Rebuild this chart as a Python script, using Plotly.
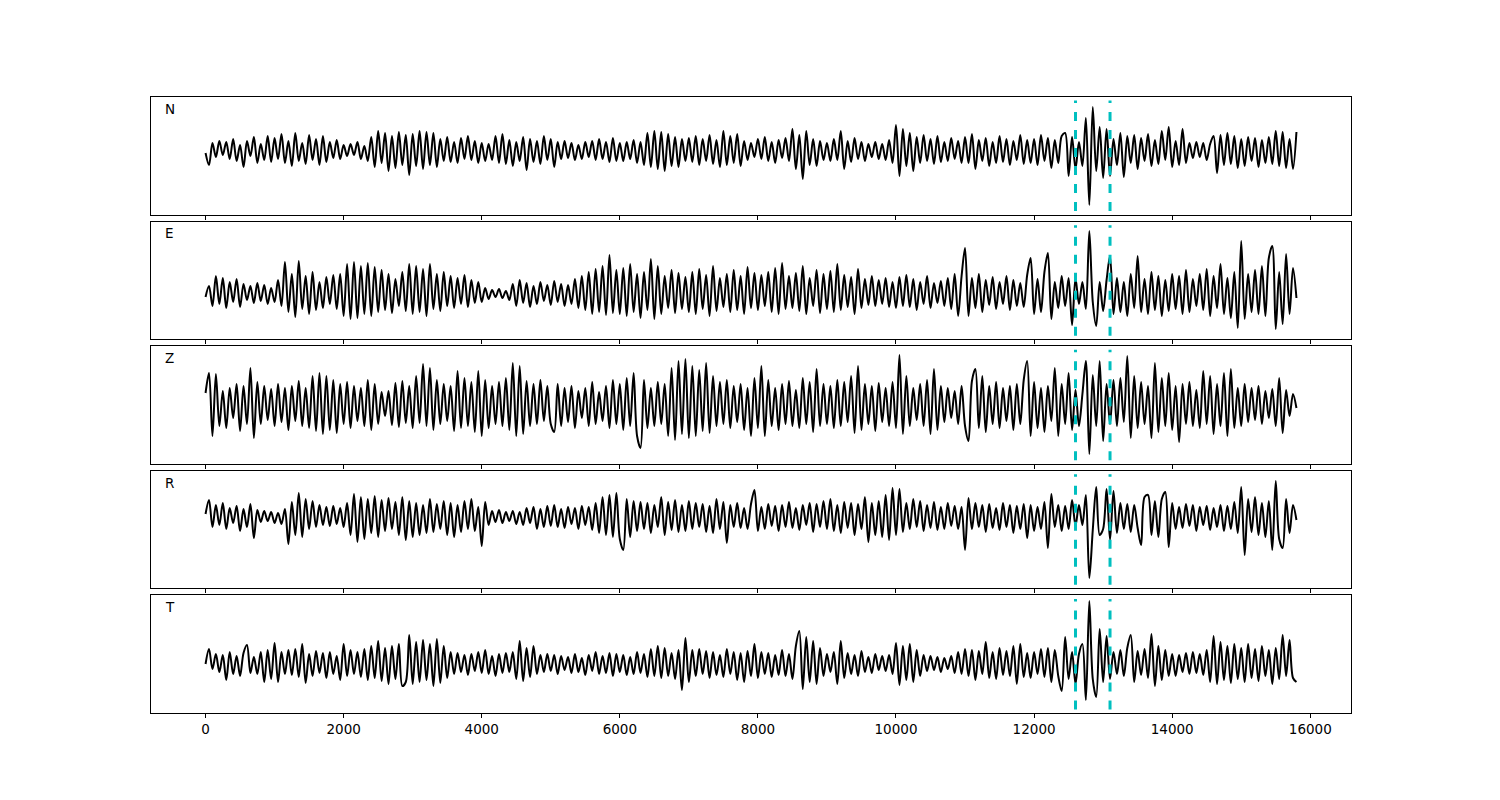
import numpy as np
import plotly.graph_objects as go
from plotly.subplots import make_subplots

# sample spacing of the traces (x units)
dt = 50
pick_times = [12600, 13100]
components = ["N", "E", "Z", "R", "T"]
x_ticks = [0, 2000, 4000, 6000, 8000, 10000, 12000, 14000, 16000]

N_vals = [
    -2, -14, 8, -6, 10, -4, 9, -8, 12, -10, 6, -16, 10, -5, 14, -12, 7, -9, 15, -11,
    13, -8, 17, -12, 10, -15, 18, -10, 8, -13, 16, -9, 12, -14, 15, -11, 9, -7, 11, -8,
    6, -5, 7, -4, 9, -8, 5, -10, 14, -16, 20, -12, 18, -20, 15, -17, 19, -14, 16, -24,
    17, -15, 20, -18, 19, -14, 18, -16, 12, -10, 14, -11, 9, -12, 13, -8, 15, -9, 10, -12,
    8, -10, 7, -9, 15, -12, 17, -13, 11, -15, 9, -10, 14, -19, 12, -11, 10, -13, 15, -9,
    12, -16, 9, -8, 10, -7, 8, -9, 6, -8, 9, -6, 10, -9, 12, -8, 9, -11, 13, -10,
    8, -10, 9, -8, 11, -12, 9, -14, 18, -16, 20, -18, 19, -20, 17, -15, 14, -16, 12, -10,
    13, -11, 15, -14, 12, -10, 16, -13, 11, -16, 20, -14, 15, -12, 17, -15, 10, -9, 8, -6,
    12, -8, 14, -10, 9, -12, 11, -7, 13, -10, 22, -18, 16, -28, 20, -14, 12, -15, 10, -9,
    8, -10, 12, -9, 20, -18, 10, -11, 13, -8, 9, -10, 7, -6, 9, -8, 7, -9, 11, -12,
    26, -25, 22, -15, 18, -20, 14, -12, 16, -10, 12, -13, 15, -11, 9, -10, 13, -8, 10, -12,
    14, -12, 17, -18, 11, -10, 13, -15, 9, -12, 15, -11, 12, -14, 10, -9, 16, -13, 11, -12,
    12, -14, 16, -10, 13, -17, 11, -12, 15, 18, -25, 14, -18, 9, -15, 33, -54, 44, -20, 24,
    -27, 22, -25, 12, -14, 18, -26, 15, -12, 16, -18, 13, -10, 17, -15, 11, -13, 20, -9, 24,
    -16, 10, -14, 22, -12, 8, -7, 9, -6, 8, -9, 7, 15, -22, 16, -14, 18, -13, 15, -17,
    12, -15, 14, -10, 13, -16, 11, -12, 14, -13, 20, -15, 19, -17, 12, -18, 19,
]

E_vals = [
    -3, 8, -12, 18, -10, 16, -14, 12, -8, 15, -13, 10, -6, 8, -9, 11, -7, 9, -10, 6,
    -8, 14, -12, 32, -18, 20, -23, 33, -15, 18, -20, 22, -16, 12, -14, 17, -10, 19, -15, 20,
    -22, 30, -25, 32, -24, 28, -20, 31, -22, 27, -18, 24, -16, 20, -19, 15, -12, 22, -17, 30,
    -20, 28, -18, 25, -22, 30, -15, 20, -17, 22, -12, 18, -14, 16, -10, 19, -13, 14, -9, 12,
    -8, 6, -5, 4, -3, 5, -4, 3, -6, 10, -12, 14, -9, 11, -13, 8, -10, 12, -7, 9,
    -11, 13, -8, 10, -12, 9, -10, 15, -14, 18, -16, 22, -20, 25, -18, 28, -21, 39, -19, 24,
    -20, 26, -22, 30, -18, 20, -24, 22, -16, 35, -25, 28, -20, 18, -14, 24, -19, 21, -15, 17,
    -18, 22, -20, 25, -15, 19, -22, 28, -17, 16, -13, 20, -18, 24, -16, 18, -20, 27, -14, 21,
    -16, 19, -12, 22, -18, 26, -20, 31, -15, 18, -14, 21, -17, 28, -20, 16, -12, 24, -19, 20,
    -15, 23, -18, 30, -16, 19, -13, 17, -20, 25, -14, 15, -11, 18, -12, 14, -10, 16, -13, 12,
    -14, 17, -12, 19, -13, 15, -16, 12, -10, 18, -14, 11, -9, 13, -12, 16, -15, 20, -22, 18,
    46, -22, 16, -14, 20, -18, 14, -11, 17, -15, 12, -10, 18, -16, 14, -12, 11, -13, 19, 36,
    -20, 15, -18, 22, 41, -25, 12, -14, 18, -12, 16, -31, 16, -10, 12, -15, 63, -8, -32, 12,
    -17, 14, 38, -20, 16, -18, 12, -22, 20, -14, 38, -18, 15, -20, 22, -16, 18, -22, 14, -17,
    20, -15, 18, -20, 24, -18, 15, -12, 20, -16, 25, -22, 18, -14, 30, -20, 16, -24, 22, -34,
    53, -25, 20, -18, 24, -20, 28, -22, 36, 48, -35, 22, -30, 40, -20, 26, -4,
]

Z_vals = [
    13, 33, -30, 32, -20, 15, -22, 18, -12, 22, -25, 20, -18, 38, -32, 24, -18, 20, -14, 17,
    -20, 22, -16, 18, -24, 20, -15, 25, -20, 18, -22, 30, -25, 33, -28, 30, -24, 26, -27, 22,
    -18, 24, -22, 20, -15, 18, -20, 26, -24, 22, -18, 14, -10, 15, -19, 23, -21, 25, -17, 20,
    -22, 30, -17, 42, -20, 38, -24, 26, -18, 22, -15, 20, -25, 35, -22, 28, -20, 24, -26, 35,
    -30, 26, -22, 20, -18, 24, -20, 28, -24, 43, -30, 40, -28, 25, -20, 22, -18, 26, -15, 20,
    -18, -26, 22, -20, 18, -16, 20, -22, 15, -12, 18, -20, 24, -18, 14, -15, 20, -22, 26, -18,
    22, -24, 28, -20, 33, -30, -42, 26, -22, 18, -20, 24, -18, 22, -30, 38, -34, 45, -28, 47,
    -32, 40, -30, 36, -25, 43, -27, 30, -20, 24, -18, 26, -22, 20, -16, 22, -24, 18, -30, 28,
    -22, 40, -30, 26, -20, 18, -24, 22, -18, 25, -20, 16, -22, 28, -18, 24, -26, 37, -20, 22,
    -18, 20, -22, 26, -20, 24, -16, 30, -27, 40, -24, 22, -18, 20, -25, 23, -16, 18, -20, 24,
    -22, 51, -28, 30, -20, 18, -14, 22, -20, 26, -28, 37, -24, 20, -16, 18, -12, 15, -18, 20,
    -20, -35, 25, 37, -22, 30, -26, 20, -18, 24, -22, 18, -15, 20, -24, 22, -18, 26, 45, -30,
    24, -22, 18, -26, 20, -15, 38, -30, 22, -18, 33, -24, 16, -20, 12, 45, -48, 31, -20, 45,
    -35, 22, -18, 26, -20, 28, -16, 50, -32, 30, -22, 24, -18, 20, -32, 43, -26, 28, -20, 33,
    -24, 20, -36, 22, -18, 24, -20, 16, -22, 35, -18, 30, -28, 22, -20, 33, -30, 37, -22, 18,
    -20, 22, -16, 18, -14, 20, -18, 15, -12, 17, -20, 28, -27, 16, -10, 12, -2,
]

R_vals = [
    3, 17, -10, 12, -8, 14, -12, 9, -6, 11, -14, 8, -10, 13, -21, 7, -5, 6, -4, 5,
    -6, 4, -7, 8, -27, 15, -18, 24, -20, 18, -12, 16, -10, 12, -8, 10, -9, 11, -7, 9,
    -10, 14, -18, 23, -25, 20, -22, 18, -16, 21, -20, 17, -14, 19, -12, 15, -18, 20, -23, 16,
    -20, 14, -18, 12, -16, 18, -15, 13, -12, 16, -18, 14, -20, 12, -15, 16, -12, 18, -14, 10,
    -29, 15, -8, 6, -5, 7, -6, 5, -4, 6, -7, 5, -8, 9, -6, 10, -12, 8, -10, 11,
    -9, 12, -10, 8, -11, 10, -7, 9, -12, 11, -8, 10, -13, 14, -16, 20, -18, 22, -20, 24,
    -22, -33, 18, -20, 16, -14, 15, -12, 14, -16, 12, -10, 20, -18, 15, -13, 17, -15, 12, -14,
    16, -12, 14, -10, 13, -15, 11, -16, 18, -12, 15, -26, 12, -10, 14, -11, 9, -12, 13, 27,
    -14, 10, -12, 13, -9, 11, -14, 12, -10, 15, -11, 9, -13, 12, -8, 14, -15, 13, -10, 16,
    -12, 18, -14, 12, -16, 15, -11, 14, -18, 13, -12, 20, -25, 14, -18, 16, -20, 22, -23, 29,
    -18, 28, -15, 14, -12, 18, -10, 16, -14, 12, -11, 15, -13, 10, -12, 14, -9, 11, -12, 10,
    -33, 19, -12, 14, -10, 12, -15, 13, -11, 9, -13, 14, -10, 12, -16, 11, -12, 13, -21, 12,
    -14, 10, -12, 15, -31, 23, -10, 12, -14, 11, -12, 17, -9, 12, -8, 22, -61, -13, 30, -18,
    -12, 28, -23, 26, -16, 14, -12, 13, -15, 12, -11, -28, 20, 22, -18, 16, -20, 18, 25, -30,
    14, -12, 10, -11, 13, -9, 12, -14, 10, -8, 11, -13, 9, -10, 12, -14, 11, -12, 15, -16,
    30, -38, 18, -15, 20, -18, 14, -20, 16, -33, 36, -22, -31, 18, -16, 12, -3,
]

T_vals = [
    0, 15, -5, 10, -8, 9, -16, 12, -10, 8, -12, 11, 19, -9, 7, -10, 12, -18, 14, -15,
    21, -18, 12, -10, 14, -11, 15, -13, 20, -19, 10, -12, 13, -9, 11, -14, 12, -10, 8, -16,
    20, -12, 14, -10, 12, -13, 15, -16, 18, -14, 23, -17, 16, -20, 18, -15, 20, -22, -18, 29,
    -20, 22, -18, 24, -16, 20, -22, 25, -19, 18, -14, 12, -10, 11, -8, 9, -11, 10, -7, 12,
    -9, 14, -10, 8, -12, 10, -9, 11, -8, 12, -15, 23, -17, 16, -13, 18, -10, 9, -8, 10,
    -7, 9, -10, 8, -6, 7, -9, 10, -8, 6, -11, 9, -7, 12, -10, 8, -9, 11, -12, 10,
    -8, 9, -11, 7, -10, 12, -9, 10, -13, 15, -12, 18, -14, 16, -12, 11, -15, 14, -26, 26,
    -18, 14, -12, 15, -10, 13, -14, 12, -11, 9, -13, 15, -10, 12, -16, 11, -18, 13, -12, 20,
    -14, 12, -10, 11, -13, 9, -11, 14, -12, 10, -15, 18, 33, -25, 27, -18, 23, -20, 16, -12,
    10, -8, 12, -20, 23, -14, 11, -10, 9, -12, 13, -8, 7, -9, 10, -6, 8, -7, 9, -10,
    21, -21, 18, -16, 20, -18, 14, -12, 9, -7, 8, -6, 7, -8, 6, -5, 8, -9, 12, -10,
    15, -12, 14, -16, 13, -10, 22, -14, 12, -15, 16, -11, 13, -12, 18, -20, 20, -13, 11, -14,
    12, -10, 15, -13, 16, -18, 14, -12, -27, 27, -15, 12, -20, 10, 20, -36, 63, -15, -33, 35,
    -18, 28, -15, 12, -10, 14, -12, 16, 29, -18, 13, -11, 15, -14, 30, -22, 18, -16, 14, -12,
    10, -12, 9, -8, 11, -10, 12, -9, 10, -11, 14, -18, 28, -20, 22, -16, 18, -19, 20, -15,
    16, -18, 20, -14, 15, -17, 18, -12, 14, -20, 16, -15, 29, -12, 24, -14, -18,
]

series = [N_vals, E_vals, Z_vals, R_vals, T_vals]

# ---- layout / styling ----
W, H = 1500, 800
# page body adds ~7px offset; compensate so the plot area lands at 150..1350 x 96..712
ML, MR, MT, MB = 143, 157, 89, 95
plot_h = H - MT - MB
panel_h = 117.6
gap = 7.0
# vertical window of each panel (below, above baseline), in trace units
y_windows = [(-63.6, 54.0), (-45.2, 72.4), (-57.8, 59.8), (-71.4, 46.2), (-49.0, 68.6)]

fig = make_subplots(rows=5, cols=1)
font_family = "DejaVu Sans"

for i, (name, vals) in enumerate(zip(components, series)):
    row = i + 1
    x = np.arange(len(vals)) * dt
    fig.add_trace(go.Scatter(x=x, y=vals, mode="lines",
                             line=dict(color="black", width=2, shape="spline", smoothing=0.9),
                             showlegend=False, hoverinfo="skip"), row=row, col=1)
    top = 1 - (i * (panel_h + gap)) / plot_h
    bot = 1 - (i * (panel_h + gap) + panel_h) / plot_h
    sfx = "" if i == 0 else str(row)
    fig.layout["yaxis" + sfx].update(domain=[bot, top], range=list(y_windows[i]),
                                     showticklabels=False, ticks="", showgrid=False,
                                     zeroline=False, showline=True, mirror=True,
                                     linecolor="black", linewidth=1)
    fig.layout["xaxis" + sfx].update(range=[-790, 16590], tickvals=x_ticks,
                                     ticktext=[str(t) for t in x_ticks],
                                     showticklabels=(i == 4), ticks="outside",
                                     ticklen=4, tickwidth=1, tickcolor="black",
                                     showgrid=False, zeroline=False, showline=True,
                                     mirror=True, linecolor="black", linewidth=1,
                                     tickfont=dict(family=font_family, size=13.5, color="black"))
    xd = ("x" + sfx) + " domain"
    yd = ("y" + sfx) + " domain"
    fig.add_annotation(text=name, xref=xd, yref=yd, x=0.01, y=0.9,
                       xanchor="left", yanchor="middle", showarrow=False,
                       font=dict(family=font_family, size=13.5, color="black"))
    for t in pick_times:
        fig.add_shape(type="line", xref="x" + sfx, yref=yd, x0=t, x1=t, y0=0.03, y1=0.97,
                      line=dict(color="#00BFBF", width=3, dash="dash"))

fig.update_layout(width=W, height=H, margin=dict(l=ML, r=MR, t=MT, b=MB),
                  paper_bgcolor="white", plot_bgcolor="white",
                  font=dict(family=font_family, color="black"))

fig.write_html("out.html")
